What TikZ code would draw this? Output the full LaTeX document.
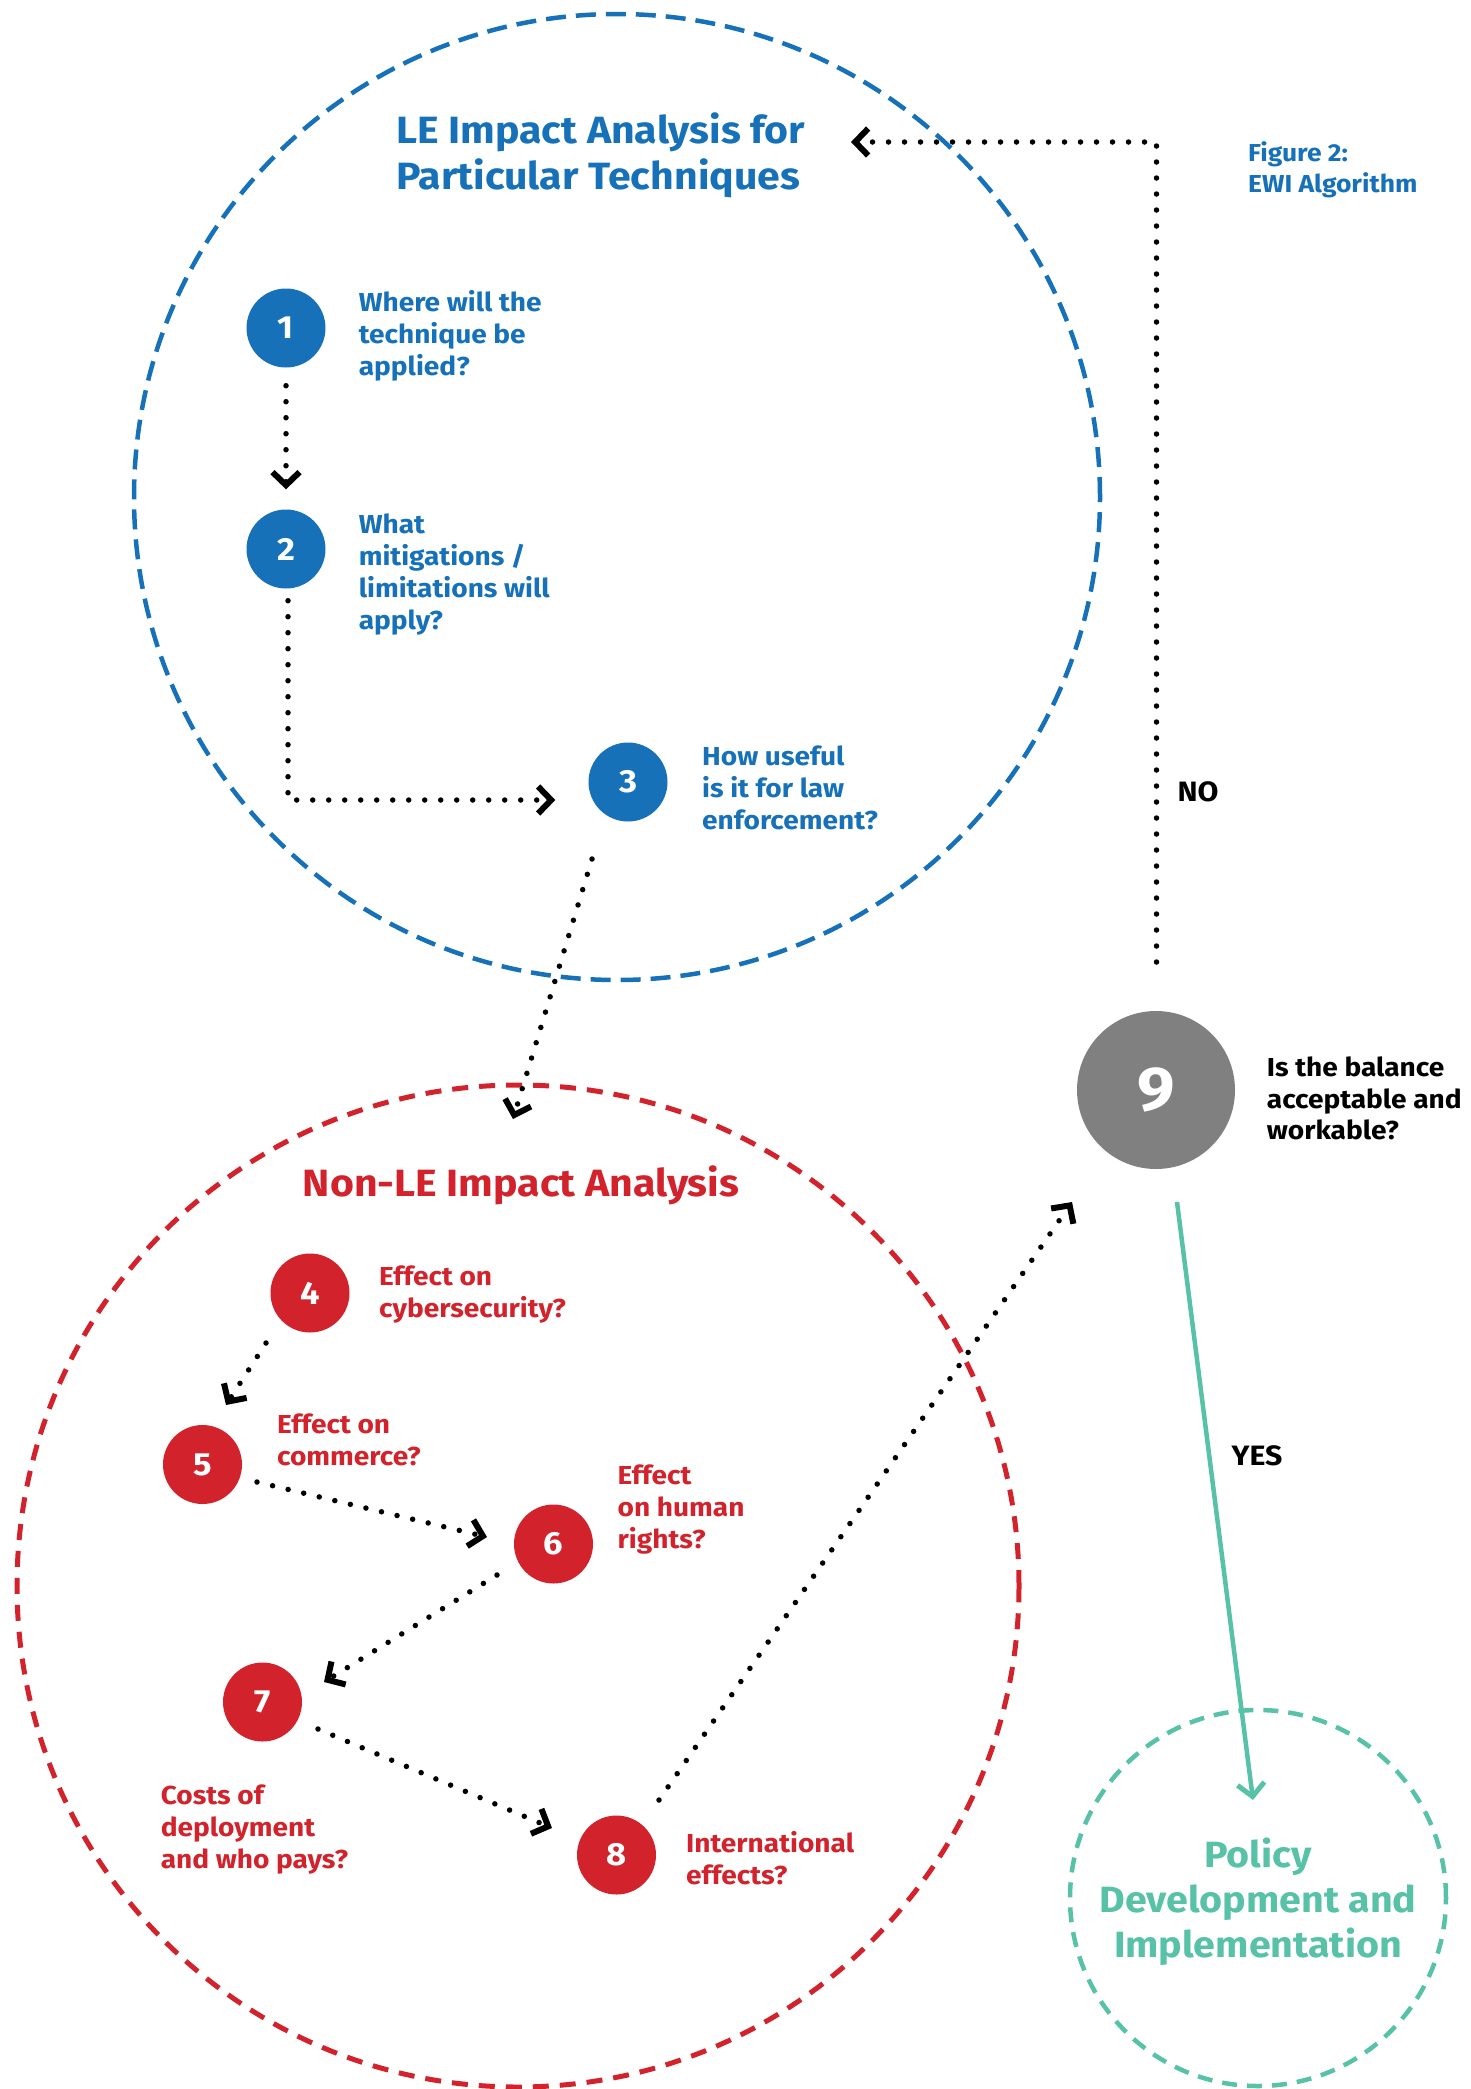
\documentclass[tikz,border=0pt]{standalone}
\usepackage{fontspec}
\setmainfont{Fira Sans}[FakeStretch=1.08]
\usetikzlibrary{arrows.meta}
\definecolor{ewiblue}{RGB}{22,113,185}
\definecolor{ewired}{RGB}{210,35,44}
\definecolor{ewiteal}{RGB}{87,194,168}
\definecolor{ewigray}{RGB}{128,128,128}
\begin{document}
\begin{tikzpicture}[x=1pt,y=-1pt,
  numc/.style={circle, fill=#1, minimum size=79pt, inner sep=0pt, text=white,
    font=\bfseries\fontsize{32}{32}\selectfont},
  qtext/.style={anchor=base west, align=left, inner sep=0pt, text=#1,
    font=\bfseries\fontsize{26}{32}\selectfont},
  ttext/.style={align=left, inner sep=0pt, text=#1,
    font=\bfseries\fontsize{38}{46}\selectfont},
  bigcirc/.style={circle, draw=#1, inner sep=0pt},
  dotarrow/.style={line width=5.5pt, line cap=round, dash pattern=on 0pt off 16pt,
    -{Straight Barb[length=13pt,width=27pt,line width=6pt,sharp]}},
  lbl/.style={inner sep=0pt, font=\bfseries\fontsize{28}{28}\selectfont}
]
\useasboundingbox (0,0) rectangle (1471,2089);

% big dashed circles
\node[bigcirc=ewiblue, line width=4.5pt, dash pattern=on 20pt off 10pt, minimum size=966pt] (le) at (617,497) {};
\node[bigcirc=ewired, line width=5pt, dash pattern=on 16pt off 11pt, minimum size=1002pt] (nonle) at (518,1586) {};
\node[bigcirc=ewiteal, line width=4.5pt, dash pattern=on 15pt off 10pt, minimum size=376pt] (policy) at (1258,1898) {};

% titles (anchor = baseline of last line)
\node[ttext=ewiblue, anchor=base west] (tle) at (396,189) {LE Impact Analysis for\\Particular Techniques};
\node[ttext=ewired, anchor=base] (tnonle) at (521,1196) {Non-LE Impact Analysis};
\node[anchor=base, align=center, inner sep=0pt, text=ewiteal,
  font=\bfseries\fontsize{36.5}{45}\selectfont] (tpolicy) at (1258,1957) {Policy\\Development and\\Implementation};
\node[qtext=ewiblue, font=\bfseries\fontsize{24.5}{31}\selectfont] (fig) at (1248,192) {Figure 2:\\EWI Algorithm};

% numbered circles
\node[numc=ewiblue] (n1) at (286,328) {1};
\node[numc=ewiblue] (n2) at (286,549) {2};
\node[numc=ewiblue] (n3) at (628,782) {3};
\node[numc=ewired] (n4) at (310,1293) {4};
\node[numc=ewired] (n5) at (202.5,1464.5) {5};
\node[numc=ewired] (n6) at (553.5,1544) {6};
\node[numc=ewired] (n7) at (262.5,1702) {7};
\node[numc=ewired] (n8) at (616.5,1855) {8};
\node[circle, fill=ewigray, minimum size=158pt, inner sep=0pt, text=white,
  font=\bfseries\fontsize{62}{62}\selectfont] (n9) at (1156,1090) {9};

% question texts (anchor = baseline of last line)
\node[qtext=ewiblue] (q1) at (358.6,375.7) {Where will the\\technique be\\applied?};
\node[qtext=ewiblue] (q2) at (358.6,629) {What\\mitigations /\\limitations will\\apply?};
\node[qtext=ewiblue] (q3) at (702,829) {How useful\\is it for law\\enforcement?};
\node[qtext=ewired] (q4) at (379,1317) {Effect on\\cybersecurity?};
\node[qtext=ewired] (q5) at (277,1465) {Effect on\\commerce?};
\node[qtext=ewired] (q6) at (617.5,1548) {Effect\\on human\\rights?};
\node[qtext=ewired] (q7) at (160.6,1868) {Costs of\\deployment\\and who pays?};
\node[qtext=ewired] (q8) at (686,1884) {International\\effects?};
\node[qtext=black, font=\bfseries\fontsize{26}{31.5}\selectfont] (q9) at (1266.7,1139.7) {Is the balance\\acceptable and\\workable?};

% labels
\node[lbl] (no) at (1198,792) {NO};
\node[lbl] (yes) at (1257,1456) {YES};

% connectors
\draw[dotarrow] ([yshift=-18pt]n1.south) -- ([yshift=20pt]n2.north);
\draw[dotarrow] ([shift={(2,12)}]n2.south) |- ([shift={(-33,18)}]n3.west);
\draw[dotarrow] ([shift={(-36,77)}]n3.center) -- ([shift={(-5,-467)}]nonle.center);
\draw[dotarrow] ([shift={(-44,50)}]n4.center) -- ([shift={(23.5,-59.5)}]n5.center);
\draw[dotarrow] ([shift={(54.5,17.5)}]n5.center) -- ([shift={(-66.5,-7)}]n6.center);
\draw[dotarrow] ([shift={(-56.5,31)}]n6.center) -- ([shift={(61.5,-20)}]n7.center);
\draw[dotarrow] ([shift={(55.5,27)}]n7.center) -- ([shift={(-64.5,-27)}]n8.center);
\draw[dotarrow] ([shift={(42.5,-55)}]n8.center) -- ([shift={(-84,112)}]n9.center);
\draw[dotarrow] ([shift={(0.5,-128)}]n9.center) |- ([shift={(234,-355)}]le.center);
\draw[ewiteal, line width=4.5pt, -{Straight Barb[length=13pt,width=27pt,line width=5pt,sharp]}]
  ([shift={(21,112)}]n9.center) -- ([shift={(-5,-98)}]policy.center);
\end{tikzpicture}
\end{document}
